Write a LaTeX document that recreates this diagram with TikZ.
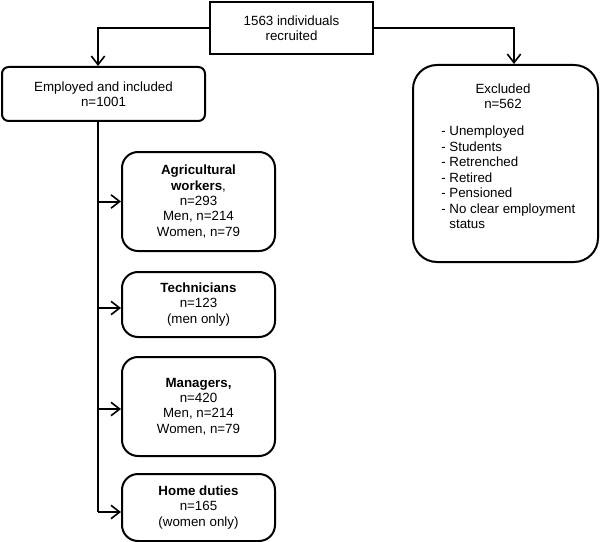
\documentclass[tikz,border=0pt]{standalone}
\usepackage{fontspec}
\setmainfont{Liberation Sans}
\usetikzlibrary{arrows.meta}
\begin{document}
\begin{tikzpicture}[x=0.75pt,y=-0.75pt,
  box/.style={draw,line width=1.5pt,align=center,inner sep=0pt,
    font=\fontsize{10}{11.5}\selectfont},
  sub/.style={box,rounded corners=12pt,minimum width=153*0.75pt},
  arr/.style={line width=1.5pt,-{Straight Barb[length=6.5pt,width=10pt,line width=1.2pt]}},
  ln/.style={line width=1.5pt},
  txt/.style={inner sep=0pt,font=\fontsize{10}{11.6}\selectfont}]
\useasboundingbox (0,0) rectangle (600,542);
\node[box,minimum width=163*0.75pt,minimum height=52*0.75pt] (top) at (291.5,28) {1563 individuals\\recruited};
\node[box,rounded corners=5pt,minimum width=203*0.75pt,minimum height=54*0.75pt] (empl) at (103.5,94) {Employed and included\\n=1001};
\node[box,rounded corners=18pt,minimum width=185*0.75pt,minimum height=197*0.75pt] (excl) at (505.5,163.5) {};
\node[txt,align=center] (exh) at (503,96) {Excluded\\n=562};
\node[txt,align=left,anchor=north west] (exl) at (441,126) {- Unemployed\\- Students\\- Retrenched\\- Retired\\- Pensioned\\- No clear employment\\\phantom{- }status};
\node[sub,minimum height=99*0.75pt] (agri) at (198.5,201.5) {\textbf{Agricultural}\\\textbf{workers},\\n=293\\Men, n=214\\Women, n=79};
\node[sub,minimum height=65*0.75pt] (tech) at (198.5,304.5) {\textbf{Technicians}\\n=123\\(men only)};
\node[sub,minimum height=99*0.75pt] (man) at (198.5,406.5) {\textbf{Managers,}\\n=420\\Men, n=214\\Women, n=79};
\node[sub,minimum height=67*0.75pt] (home) at (198.5,507.5) {\textbf{Home duties}\\n=165\\(women only)};
\coordinate (lt) at (98,28);
\coordinate (rt) at (514,28);
\coordinate (trunkend) at (98,512);
\draw[arr] (top.west) -- (lt) -- (lt |- empl.north);
\draw[arr] (top.east) -- (rt) -- (rt |- excl.north);
\draw[ln] (trunkend |- empl.south) -- (trunkend);
\draw[arr] (trunkend |- agri.west) -- (agri.west);
\draw[arr] (trunkend |- 0,308) -- (tech.west |- 0,308);
\draw[arr] (trunkend |- 0,409) -- (man.west |- 0,409);
\draw[arr] (trunkend) -- (home.west |- trunkend);
\end{tikzpicture}
\end{document}
